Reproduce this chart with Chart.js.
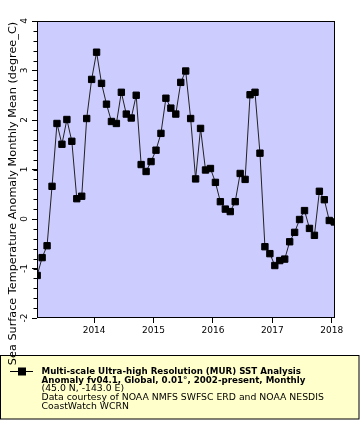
<!DOCTYPE html>
<html><head><meta charset="utf-8">
<script src="https://cdn.jsdelivr.net/npm/chart.js@4/dist/chart.umd.min.js"></script>
<style>html,body{margin:0;padding:0;background:#fff}canvas{display:block}</style>
</head><body>
<canvas id="c" width="360" height="440"></canvas>
<script>
const months = [
 '2013-01','2013-02','2013-03','2013-04','2013-05','2013-06','2013-07','2013-08','2013-09','2013-10','2013-11','2013-12',
 '2014-01','2014-02','2014-03','2014-04','2014-05','2014-06','2014-07','2014-08','2014-09','2014-10','2014-11','2014-12',
 '2015-01','2015-02','2015-03','2015-04','2015-05','2015-06','2015-07','2015-08','2015-09','2015-10','2015-11','2015-12',
 '2016-01','2016-02','2016-03','2016-04','2016-05','2016-06','2016-07','2016-08','2016-09','2016-10','2016-11','2016-12',
 '2017-01','2017-02','2017-03','2017-04','2017-05','2017-06','2017-07','2017-08','2017-09','2017-10','2017-11','2017-12',
 '2018-01'];
const anomaly = [
 -1.14,-0.78,-0.54,0.66,1.93,1.51,2.01,1.57,0.41,0.46,2.03,2.82,
 3.37,2.74,2.32,1.97,1.93,2.56,2.12,2.04,2.50,1.10,0.96,1.16,
 1.39,1.73,2.44,2.24,2.12,2.76,2.99,2.03,0.81,1.83,0.99,1.02,
 0.74,0.35,0.20,0.15,0.35,0.92,0.80,2.51,2.56,1.33,-0.56,-0.70,
 -0.94,-0.84,-0.81,-0.46,-0.27,-0.01,0.17,-0.19,-0.33,0.56,0.39,-0.03,
 -0.06];
const xTickYears = [2014,2015,2016,2017,2018];
const yTickValues = [-2,-1,0,1,2,3,4];
const yMinorStep = 0.2;
const yTitle = 'Sea Surface Temperature Anomaly Monthly Mean (degree_C)';
const legendBold = ['Multi-scale Ultra-high Resolution (MUR) SST Analysis','Anomaly fv04.1, Global, 0.01°, 2002-present, Monthly'];
const legendPlain = ['(45.0 N, -143.0 E)','Data courtesy of NOAA NMFS SWFSC ERD and NOAA NESDIS','CoastWatch WCRN'];

function toDecimalYear(s){const p=s.split('-').map(Number);return p[0]+(p[1]-0.5)/12;}
const points = months.map((m,i)=>({x:toDecimalYear(m), y:anomaly[i]}));
const FONT = '"DejaVu Sans", sans-serif';

const decor = {
  id:'decor',
  beforeDraw(chart){
    const {ctx, chartArea:a} = chart;
    ctx.save();
    ctx.fillStyle='#fff'; ctx.fillRect(0,0,chart.width,chart.height);
    ctx.fillStyle='#CCCCFF'; ctx.fillRect(a.left,a.top,a.right-a.left,a.bottom-a.top);
    ctx.restore();
  },
  afterDraw(chart){
    const {ctx, chartArea:a} = chart;
    const ys = chart.scales.y;
    ctx.save();
    // frame
    ctx.strokeStyle='#000'; ctx.lineWidth=1;
    ctx.strokeRect(Math.round(a.left)+0.5,Math.round(a.top)+0.5,Math.round(a.right-a.left)-1,Math.round(a.bottom-a.top)-1);
    // minor ticks
    ctx.beginPath();
    for(let v=ys.min; v<=ys.max+1e-9; v+=yMinorStep){
      const py=Math.round(ys.getPixelForValue(v))+0.5;
      ctx.moveTo(a.left-3.5,py); ctx.lineTo(a.left,py);
    }
    ctx.stroke();
    // legend box
    ctx.fillStyle='#FFFFCC'; ctx.fillRect(0.5,355.5,358.5,63.5);
    ctx.strokeStyle='#000'; ctx.strokeRect(0.5,355.5,358.5,63.5);
    ctx.beginPath(); ctx.moveTo(10,371.5); ctx.lineTo(33,371.5); ctx.stroke();
    ctx.fillStyle='#000'; ctx.fillRect(18,367.5,8,8);
    ctx.textAlign='left'; ctx.textBaseline='alphabetic';
    ctx.font='bold 8.7px '+FONT;
    const base=[373.5,382.5,391,400,409];
    legendBold.forEach((t,i)=>ctx.fillText(t,41.5,base[i]));
    ctx.font='9.3px '+FONT;
    legendPlain.forEach((t,i)=>ctx.fillText(t,41.5,base[i+2]));
    // y title (drawn last, overlapping the legend top like the original)
    ctx.fillStyle='#000';
    ctx.font='11.25px '+FONT;
    ctx.textAlign='center'; ctx.textBaseline='middle';
    ctx.translate(13,193.5); ctx.rotate(-Math.PI/2);
    ctx.fillText(yTitle,0,0);
    ctx.restore();
  }
};

new Chart(document.getElementById('c'), {
  type:'line',
  data:{datasets:[{
    data:points,
    borderColor:'#222', borderWidth:1,
    pointStyle:'rect', pointRadius:4.5, pointHoverRadius:4.5,
    pointBackgroundColor:'#000', pointBorderColor:'#000', pointBorderWidth:1,
    tension:0, clip:0
  }]},
  options:{
    responsive:false, animation:false, devicePixelRatio:1,
    events:[],
    layout:{padding:{left:0,top:21,right:25,bottom:102}},
    plugins:{legend:{display:false}, tooltip:{enabled:false}},
    scales:{
      x:{type:'linear', min:toDecimalYear(months[0])-0.003, max:toDecimalYear(months[months.length-1])+0.013,
        afterBuildTicks:s=>{s.ticks=xTickYears.map(v=>({value:v}));},
        afterFit:s=>{s.height=20;},
        ticks:{autoSkip:false,maxRotation:0,minRotation:0,padding:2,color:'#000',font:{family:FONT,size:9},callback:v=>String(v)},
        grid:{drawOnChartArea:false,drawTicks:true,tickLength:5,tickColor:'#000',tickWidth:1},
        border:{display:false}},
      y:{type:'linear', min:-2, max:4,
        afterBuildTicks:s=>{s.ticks=yTickValues.map(v=>({value:v}));},
        afterFit:s=>{s.width=37;},
        ticks:{autoSkip:false,minRotation:90,maxRotation:90,crossAlign:'center',padding:3,color:'#000',font:{family:FONT,size:9},callback:v=>String(v)},
        grid:{drawOnChartArea:false,drawTicks:true,tickLength:5,tickColor:'#000',tickWidth:1},
        border:{display:false}}
    }
  },
  plugins:[decor]
});
</script>
</body></html>
